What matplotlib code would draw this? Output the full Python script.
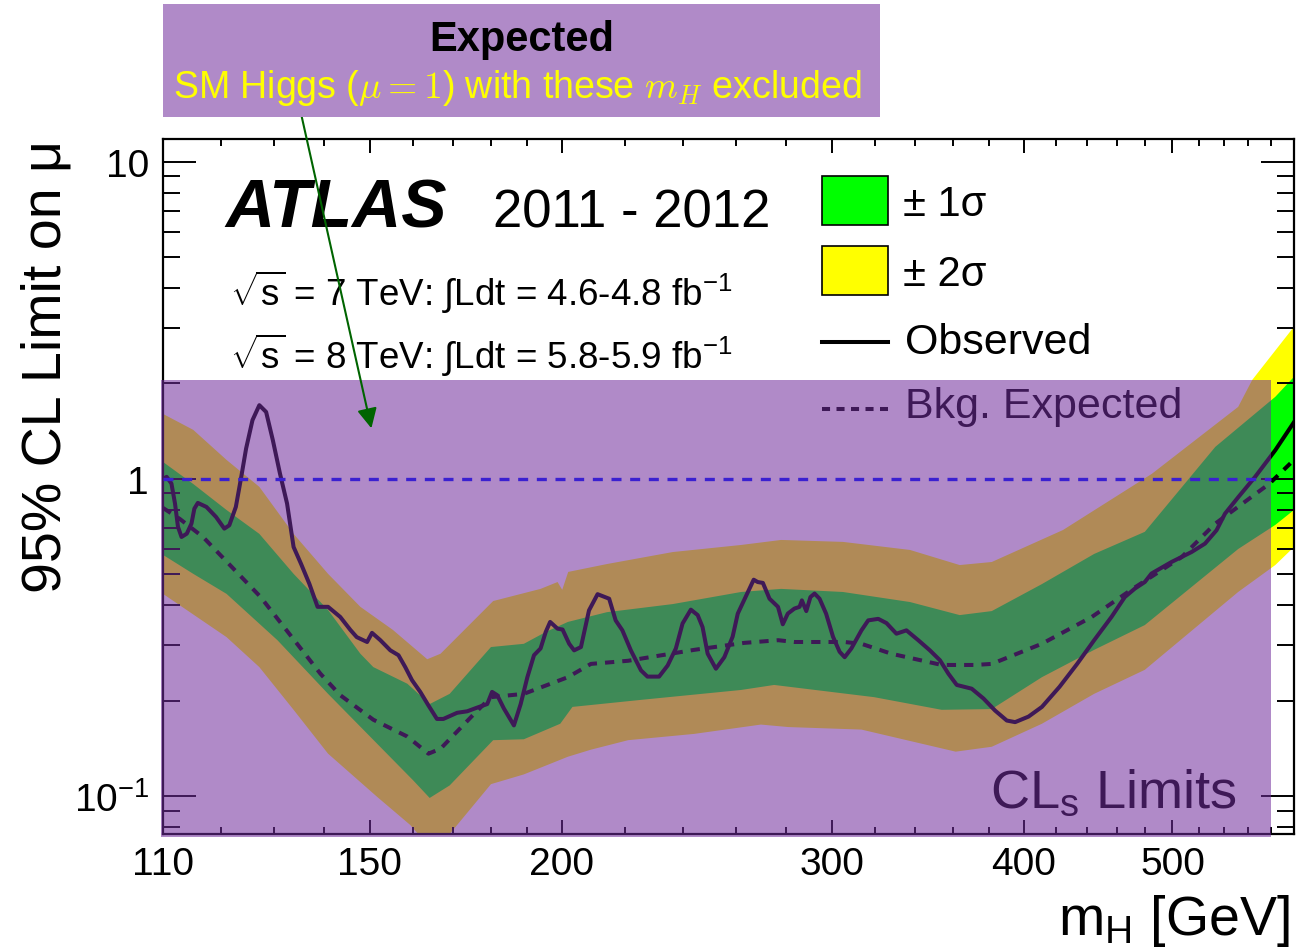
import numpy as np
import matplotlib
matplotlib.use('Agg')
import matplotlib.pyplot as plt
from matplotlib.patches import Rectangle
from matplotlib.ticker import FixedLocator, FixedFormatter, NullFormatter

plt.rcParams['font.family'] = ['Liberation Sans', 'DejaVu Sans']
plt.rcParams['mathtext.fontset'] = 'custom'
plt.rcParams['mathtext.rm'] = 'Liberation Sans'
plt.rcParams['mathtext.it'] = 'Liberation Sans:italic'
plt.rcParams['mathtext.bf'] = 'Liberation Sans:bold'
plt.rcParams['mathtext.sf'] = 'Liberation Sans'

# ---------------- data ----------------
obs_mass = [110, 110.6, 111.4, 112.0, 112.5, 113.1, 114.0, 114.8, 115.3, 115.9, 117.4, 119.1,
            120.6, 121.5, 122.7, 123.7, 124.6, 125.8, 127.1, 128.4, 129.7, 131.1, 132.5, 133.8,
            135.3, 137.0, 138.7, 140.9, 143.5, 145.7, 147.1, 149.4, 150.5, 152.4, 154.7, 156.6,
            158.2, 159.8, 161.8, 163.8, 165.9, 167.5, 171.0, 173.6, 176.2, 178.9, 180.2, 181.6,
            183.4, 186.2, 188.1, 190.0, 191.9, 193.8, 195.3, 196.6, 198.8, 200.3, 202.3, 203.8,
            205.9, 208.4, 209.5, 211.1, 214.8, 216.9, 219.1, 221.9, 225.3, 227.5, 231.5, 234.5,
            237.4, 239.8, 242.8, 245.3, 247.1, 249.0, 252.1, 255.3, 258.5, 260.5, 264.5, 266.8,
            268.4, 270.5, 273.2, 276.7, 278.7, 280.8, 283.6, 285.8, 286.8, 288.7, 290.5, 292.3,
            294.5, 297.4, 300.5, 303.5, 305.8, 308.9, 313.6, 316.8, 321.6, 325.6, 330.5, 335.5,
            341.5, 347.5, 352.8, 357.3, 361.8, 370.0, 376.6, 383.2, 390.0, 394.9, 402.9, 411.1,
            422.1, 433.4, 444.6, 456.3, 465.5, 472.6, 479.7, 484.5, 499.3, 514.5, 525.0, 534.2,
            541.0, 552.0, 566.0, 583.4, 600]
obs_mu = [1.0, 1.015, 0.967, 0.836, 0.706, 0.656, 0.672, 0.723, 0.806, 0.840, 0.816, 0.759,
          0.697, 0.714, 0.816, 1.015, 1.246, 1.532, 1.708, 1.626, 1.325, 1.039, 0.836, 0.610,
          0.540, 0.467, 0.395, 0.395, 0.367, 0.334, 0.317, 0.306, 0.327, 0.310, 0.288, 0.278,
          0.255, 0.232, 0.213, 0.193, 0.175, 0.175, 0.183, 0.185, 0.190, 0.195, 0.213, 0.208,
          0.189, 0.167, 0.195, 0.237, 0.278, 0.292, 0.329, 0.354, 0.337, 0.335, 0.302, 0.288,
          0.295, 0.385, 0.404, 0.433, 0.419, 0.358, 0.333, 0.288, 0.249, 0.238, 0.238, 0.258,
          0.292, 0.350, 0.387, 0.372, 0.341, 0.281, 0.252, 0.274, 0.318, 0.376, 0.440, 0.481,
          0.473, 0.470, 0.419, 0.395, 0.348, 0.376, 0.390, 0.395, 0.414, 0.383, 0.424, 0.435,
          0.419, 0.376, 0.318, 0.285, 0.274, 0.292, 0.333, 0.358, 0.362, 0.351, 0.325, 0.333,
          0.310, 0.288, 0.268, 0.243, 0.224, 0.218, 0.203, 0.186, 0.173, 0.171, 0.178, 0.191,
          0.221, 0.261, 0.310, 0.367, 0.424, 0.451, 0.473, 0.503, 0.547, 0.588, 0.625, 0.689,
          0.777, 0.877, 1.015, 1.232, 1.51]

exp_mass = [110, 112.8, 116.8, 127.3, 139.3, 143.5, 150.8, 158.7, 163.8, 166.8, 175.3, 179.9,
            189.0, 201.9, 209.0, 221.0, 244.0, 263.0, 276.8, 283.6, 305.7, 313.6, 328.0, 353.7,
            371.7, 381.3, 411.0, 443.0, 470.0, 507.0, 533.0, 578.0, 600]
exp_mu = [0.81, 0.748, 0.656, 0.425, 0.243, 0.208, 0.174, 0.154, 0.136, 0.141, 0.181, 0.205,
          0.210, 0.237, 0.261, 0.267, 0.289, 0.304, 0.310, 0.306, 0.306, 0.302, 0.281, 0.259,
          0.259, 0.261, 0.302, 0.367, 0.447, 0.567, 0.722, 0.964, 1.148]

# +2 sigma edge
p2_mass = [110, 115.1, 121.0, 127.1, 133.8, 140.9, 147.9, 155.3, 163.5, 166.8, 180.5, 193.8,
           198.8, 200.2, 202.0, 214.1, 236.3, 261.8, 278.0, 305.0, 337.3, 363.4, 381.3, 424.3,
           484.7, 551.8, 563.6, 600]
p2_mu = [1.603, 1.428, 1.148, 0.944, 0.671, 0.502, 0.395, 0.334, 0.270, 0.281, 0.412, 0.450,
         0.473, 0.447, 0.509, 0.539, 0.588, 0.619, 0.642, 0.633, 0.597, 0.535, 0.547, 0.690,
         1.037, 1.687, 2.053, 3.02]
# +1 sigma edge
p1_mass = [110, 115.1, 121.0, 127.1, 133.8, 140.9, 147.9, 150.8, 158.7, 164.1, 169.1, 179.9,
           189.0, 195.3, 201.9, 214.1, 236.3, 261.8, 278.0, 305.0, 337.3, 363.4, 381.3, 411.1,
           444.6, 479.7, 533.2, 583.4, 600]
p1_mu = [1.131, 0.964, 0.798, 0.671, 0.502, 0.386, 0.281, 0.255, 0.226, 0.195, 0.210, 0.295,
         0.302, 0.329, 0.354, 0.380, 0.403, 0.440, 0.450, 0.440, 0.409, 0.372, 0.383, 0.466,
         0.580, 0.681, 1.262, 1.815, 2.098]
# -1 sigma edge
m1_mass = [110, 115.1, 121.0, 130.6, 140.9, 151.7, 160.1, 164.1, 169.1, 180.5, 189.0, 199.6,
           203.3, 225.3, 261.8, 275.1, 319.6, 353.7, 381.3, 411.1, 444.6, 479.7, 551.8, 583.4, 600]
m1_mu = [0.576, 0.502, 0.434, 0.310, 0.210, 0.146, 0.112, 0.0986, 0.108, 0.150, 0.151, 0.169,
         0.191, 0.201, 0.216, 0.224, 0.205, 0.187, 0.188, 0.237, 0.289, 0.346, 0.601, 0.716, 0.798]
# -2 sigma edge
m2_mass = [110, 121.0, 127.1, 133.8, 140.9, 151.7, 159.4, 164.1, 169.1, 179.9, 189.0, 201.9,
           209.0, 221.0, 244.0, 269.7, 281.0, 313.6, 361.2, 381.3, 411.1, 444.6, 479.7, 551.8,
           583.4, 600]
m2_mu = [0.434, 0.317, 0.255, 0.187, 0.136, 0.0993, 0.081, 0.069, 0.0759, 0.109, 0.117, 0.133,
         0.140, 0.150, 0.157, 0.168, 0.165, 0.162, 0.138, 0.143, 0.169, 0.210, 0.250, 0.440,
         0.535, 0.610]

x_major = [110, 150, 200, 300, 400, 500]
x_major_labels = ['110', '150', '200', '300', '400', '500']
x_minor = [120, 130, 140, 160, 170, 180, 190, 220, 240, 260, 280, 320, 340, 360, 380,
           420, 440, 460, 480, 520, 540, 560, 580]
y_major = [0.1, 1, 10]
y_major_labels = ['$10^{-1}$', '1', '10']

excluded_mass_max = 580.0   # right edge of the "expected excluded" shading
excluded_mu_max = 2.05

# ---------------- figure ----------------
W, H = 1297, 953
fig = plt.figure(figsize=(W / 100, H / 100), dpi=100)
L, R, T, B = 163, 1294, 140, 835
ax = fig.add_axes([L / W, (H - B) / H, (R - L) / W, (B - T) / H])
ax.set_xscale('log')
ax.set_yscale('log')
ax.set_xlim(110, 600)
ax.set_ylim(0.0759, 11.8)
ax.set_axisbelow(False)

# bands
ax.fill(np.concatenate([p2_mass, m2_mass[::-1]]), np.concatenate([p2_mu, m2_mu[::-1]]),
        color='#ffff00', lw=0, zorder=1)
ax.fill(np.concatenate([p1_mass, m1_mass[::-1]]), np.concatenate([p1_mu, m1_mu[::-1]]),
        color='#00ff00', lw=0, zorder=1.2)
ax.plot(exp_mass, exp_mu, color='black', lw=2.9, ls=(0, (2.3, 2.0)), zorder=2)
ax.plot(obs_mass, obs_mu, color='black', lw=2.9, zorder=2.1, solid_joinstyle='round')

# ticks
ax.xaxis.set_major_locator(FixedLocator(x_major))
ax.xaxis.set_major_formatter(FixedFormatter(x_major_labels))
ax.xaxis.set_minor_locator(FixedLocator(x_minor))
ax.xaxis.set_minor_formatter(NullFormatter())
ax.yaxis.set_major_locator(FixedLocator(y_major))
ax.yaxis.set_major_formatter(FixedFormatter(y_major_labels))
ax.yaxis.set_minor_locator(FixedLocator([j * 10.0 ** k for k in (-2, -1, 0, 1) for j in range(2, 10)]))
ax.yaxis.set_minor_formatter(NullFormatter())
ax.tick_params(which='both', direction='in', top=True, right=True, width=1.4, colors='black')
ax.tick_params(axis='y', which='major', length=24, labelsize=28, pad=10)
ax.tick_params(axis='y', which='minor', length=12)
ax.tick_params(axis='x', which='major', length=10, labelsize=28, pad=9)
ax.tick_params(axis='x', which='minor', length=5)
for s in ax.spines.values():
    s.set_linewidth(1.6)

# legend (manual, ROOT style)
def axc(px, py):
    return (px - L) / (R - L), (B - py) / (B - T)

for (y0, y1, c) in [(177, 226, '#00ff00'), (247, 296, '#ffff00')]:
    x0, yy0 = axc(822, y1)
    x1, yy1 = axc(888, y0)
    ax.add_patch(Rectangle((x0, yy0), x1 - x0, yy1 - yy0, transform=ax.transAxes,
                           facecolor=c, edgecolor='black', lw=1.2, zorder=3))
ax.text(*axc(903, 205), '± 1σ', transform=ax.transAxes, fontsize=30, va='center', ha='left')
ax.text(*axc(903, 275), '± 2σ', transform=ax.transAxes, fontsize=30, va='center', ha='left')
xa, ya = axc(822, 343)
xb, _ = axc(888, 343)
ax.plot([xa, xb], [ya, ya], transform=ax.transAxes, color='black', lw=2.9, zorder=3)
ax.text(*axc(905, 343), 'Observed', transform=ax.transAxes, fontsize=31, va='center', ha='left')
xa, ya = axc(822, 410)
ax.plot([xa, xb], [ya, ya], transform=ax.transAxes, color='black', lw=2.9, ls=(0, (2.0, 1.6)), zorder=3)
ax.text(*axc(905, 407), 'Bkg. Expected', transform=ax.transAxes, fontsize=31, va='center', ha='left')

# ATLAS labels
ax.text(*axc(225, 228), 'ATLAS', transform=ax.transAxes, fontsize=49, fontweight='bold',
        fontstyle='italic', va='baseline', ha='left')
ax.text(*axc(493, 228), '2011 - 2012', transform=ax.transAxes, fontsize=38, va='baseline', ha='left')
ax.text(*axc(230, 306), r'$\sqrt{\mathrm{s}}$ = 7 TeV: $\int$Ldt = 4.6-4.8 fb$^{-1}$', transform=ax.transAxes,
        fontsize=26.5, va='baseline', ha='left')
ax.text(*axc(230, 369), r'$\sqrt{\mathrm{s}}$ = 8 TeV: $\int$Ldt = 5.8-5.9 fb$^{-1}$', transform=ax.transAxes,
        fontsize=26.5, va='baseline', ha='left')
ax.text(*axc(990, 808), r'CL$_{\mathrm{s}}$ Limits', transform=ax.transAxes, fontsize=39,
        va='baseline', ha='left')

# expected-exclusion overlay
ax.add_patch(Rectangle((109.6, 0.0745), excluded_mass_max - 109.6, excluded_mu_max - 0.0745,
                       transform=ax.transData, facecolor='#712d9d', alpha=0.557, lw=0,
                       zorder=10, clip_on=False))
ax.plot([110, excluded_mass_max], [1, 1], color='#3a20d0', lw=2.4, ls=(0, (3.0, 2.6)), zorder=11)

# axis titles
fig.text(47 / W, 1 - 140 / H, '95% CL Limit on μ', rotation=90, fontsize=40,
         ha='center', va='top')
fig.text(1290 / W, 1 - 935 / H, r'm$_{\mathrm{H}}$ [GeV]', fontsize=40, ha='right', va='baseline')

# banner
fig.patches.append(Rectangle((163 / W, 1 - 118 / H), (880 - 163) / W, (118 - 5) / H,
                             transform=fig.transFigure, facecolor='#b08ac8', lw=0, zorder=0))
fig.text(522 / W, 1 - 40 / H, 'Expected', fontsize=30, fontweight='bold', ha='center', va='center')
fig.text(517 / W, 1 - 88 / H, r'SM Higgs ($\mu = 1$) with these $m_H$ excluded', fontsize=27,
         color='#ffff00', ha='center', va='center', math_fontfamily='cm')

# arrow
ax.annotate('', xy=(372 / W, 1 - 432 / H), xytext=(300 / W, 1 - 110 / H),
            xycoords='figure fraction', textcoords='figure fraction',
            arrowprops=dict(arrowstyle='-|>', color='#006400', lw=1.5, mutation_scale=30),
            zorder=12, annotation_clip=False)

fig.savefig('out.png', dpi=100)
